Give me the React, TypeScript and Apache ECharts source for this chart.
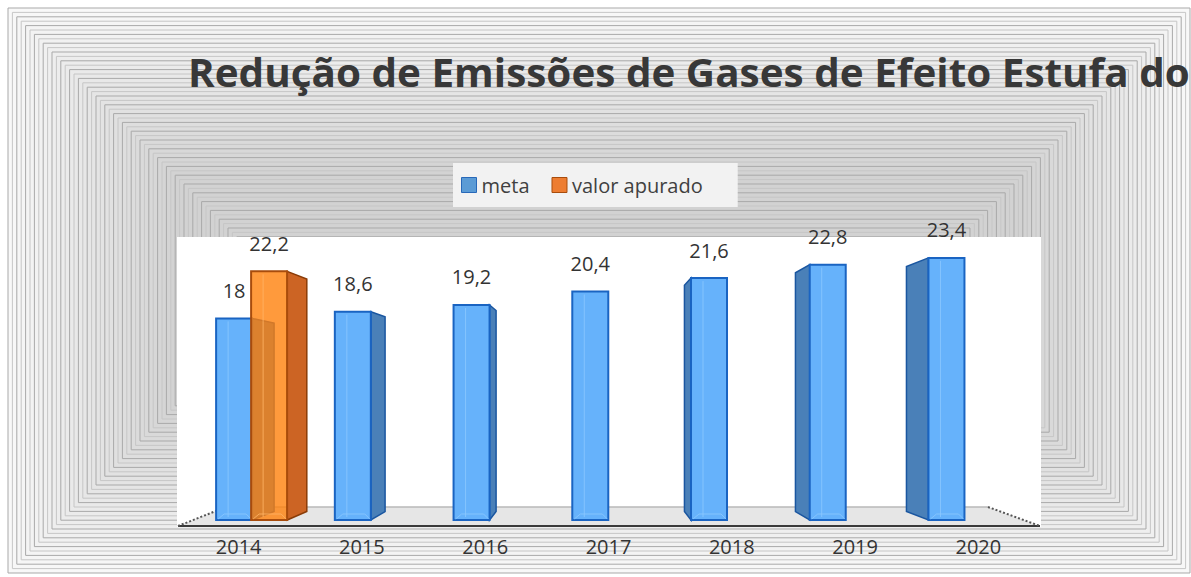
import React, { useEffect, useRef } from 'react';
import * as echarts from 'echarts';

const years = ['2014', '2015', '2016', '2017', '2018', '2019', '2020'];
const metaValues = [18, 18.6, 19.2, 20.4, 21.6, 22.8, 23.4];
const apuradoValues: (number | null)[] = [22.2, null, null, null, null, null, null];
const seriesNames = ['meta', 'valor apurado'];
const titleText = 'Redução de Emissões de Gases de Efeito Estufa do';

const FONT = '"Open Sans", "Noto Sans", sans-serif';
const VX = 590;
const VY = 390;
const DEPTH = 0.935;
const PA = 4.3;
const PB = 0.963;
const BAR_W = 36;

type BarStyle = { front: string; border: string; side: string; sideBorder: string; hi: string };

const metaStyle: BarStyle = { front: 'rgba(102,178,251,1)', border: '#1a64c2', side: '#4a80b8', sideBorder: '#1a56a0', hi: '#8cc8ff' };
const apuradoStyle: BarStyle = { front: 'rgba(255,129,11,0.8)', border: '#a84c0c', side: '#cc6424', sideBorder: '#8a3c08', hi: '#ffb468' };

const fmt = (v: number) => String(v).replace('.', ',');

function makeRender(st: BarStyle, shift: number) {
  return (params: any, api: any) => {
    const v = api.value(1);
    if (v == null || isNaN(v)) return null;
    const idx = api.value(0);
    const top = api.coord([idx, v]);
    const base = api.coord([idx, 0]);
    const cx = top[0];
    const yT = top[1];
    const yB = base[1];
    const fc = PA + PB * cx + shift;
    const x0 = fc - BAR_W / 2;
    const x1 = fc + BAR_W / 2;
    const back = (x: number, y: number) => [VX + DEPTH * (x - VX), VY + DEPTH * (y - VY)];
    const children: any[] = [];
    let edge: number | null = null;
    if (x1 < VX - 4) edge = x1;
    else if (x0 > VX + 4) edge = x0;
    if (edge !== null) {
      const bt = back(edge, yT);
      const bb = back(edge, yB);
      children.push({
        type: 'polygon',
        shape: { points: [[edge, yT], bt, bb, [edge, yB]] },
        style: { fill: st.side, stroke: st.sideBorder, lineWidth: 1.5 },
      });
    }
    children.push({
      type: 'rect',
      shape: { x: x0, y: yT, width: BAR_W, height: yB - yT },
      style: { fill: st.front, stroke: st.border, lineWidth: 2 },
    });
    children.push({
      type: 'line',
      shape: { x1: x0 + 12, y1: yT + 3, x2: x0 + 12, y2: yB - 3 },
      style: { stroke: st.hi, lineWidth: 1, opacity: 0.8 },
    });
    children.push({
      type: 'polyline',
      shape: { points: [[x0 + 2, yB - 1], [x0 + 8, yB - 6], [x1 - 6, yB - 6], [x1 - 1, yB - 1]] },
      style: { stroke: st.hi, lineWidth: 1, fill: 'none', opacity: 0.8 },
    });
    children.push({
      type: 'text',
      style: {
        text: fmt(v),
        x: fc,
        y: yT - 28,
        align: 'center',
        verticalAlign: 'middle',
        fontSize: 20,
        fontFamily: FONT,
        fill: '#333333',
      },
    });
    return { type: 'group', children };
  };
}

function backgroundRects() {
  const out: any[] = [];
  for (let k = 0; k < 70; k++) {
    const d = 4.4 * k;
    const w = 1182 - 2 * d;
    const h = 565 - 2 * d;
    if (h <= 2 || w <= 2) break;
    const lvl = Math.max(210, Math.round(248 - 1.0 * k));
    out.push({
      type: 'rect',
      silent: true,
      z: 0,
      shape: { x: 8 + d, y: 8 + d, width: w, height: h },
      style: {
        fill: `rgb(${lvl},${lvl},${lvl})`,
        stroke: k % 2 === 0 ? '#a9a9a9' : '#c6c6c6',
        lineWidth: 1,
      },
    });
  }
  return out;
}

export default function App() {
  const ref = useRef<HTMLDivElement>(null);
  useEffect(() => {
    if (!ref.current) return;
    const chart = echarts.init(ref.current, undefined, { renderer: 'svg' });

    let titleScale = 1;
    try {
      const ctx = document.createElement('canvas').getContext('2d');
      if (ctx) {
        ctx.font = `bold 39px ${FONT}`;
        const w = ctx.measureText(titleText).width;
        if (w > 0) titleScale = 1002 / w;
      }
    } catch (e) {}

    const metaData = metaValues.map((v, i) => [i, v]);
    const apuradoData = apuradoValues
      .map((v, i) => (v == null ? null : [i, v]))
      .filter((d) => d !== null);

    const option: any = {
      animation: false,
      backgroundColor: '#ffffff',
      grid: { left: 177, right: 151, top: 240, bottom: 57, containLabel: false },
      xAxis: {
        type: 'category',
        data: years,
        axisLine: { show: false },
        axisTick: { show: false },
        splitLine: { show: false },
        axisLabel: { fontSize: 20, color: '#333333', fontFamily: FONT, margin: 16 },
      },
      yAxis: {
        type: 'value',
        min: 0,
        max: 25,
        show: false,
        splitLine: { show: false },
      },
      legend: {
        left: 453,
        top: 163,
        orient: 'horizontal',
        backgroundColor: '#f2f2f2',
        padding: [12, 35, 12, 8],
        itemWidth: 15,
        itemHeight: 15,
        itemGap: 22,
        icon: 'rect',
        textStyle: { fontSize: 20, color: '#404040', fontFamily: FONT },
        data: [
          { name: seriesNames[0], itemStyle: { color: '#5b9bd5', borderColor: '#2868b8', borderWidth: 1 } },
          { name: seriesNames[1], itemStyle: { color: '#ed7d31', borderColor: '#a84c0c', borderWidth: 1 } },
        ],
      },
      graphic: [
        ...backgroundRects(),
        {
          type: 'text',
          z: 1,
          silent: true,
          x: 188,
          y: 72,
          scaleX: titleScale,
          style: {
            text: titleText,
            x: 0,
            y: 0,
            verticalAlign: 'middle',
            align: 'left',
            fontSize: 39,
            fontWeight: 'bold',
            fontFamily: FONT,
            fill: '#383838',
          },
        },
        {
          type: 'rect',
          z: 1,
          silent: true,
          shape: { x: 177, y: 237, width: 864, height: 290 },
          style: { fill: '#ffffff' },
        },
        {
          type: 'polygon',
          z: 1,
          silent: true,
          shape: { points: [[178, 526], [226, 507], [988, 507], [1040, 526]] },
          style: { fill: '#e6e6e6' },
        },
        {
          type: 'line',
          z: 1,
          silent: true,
          shape: { x1: 226, y1: 507, x2: 988, y2: 507 },
          style: { stroke: '#b8b8b8', lineWidth: 1.5 },
        },
        {
          type: 'line',
          z: 1,
          silent: true,
          shape: { x1: 178, y1: 526, x2: 1040, y2: 526 },
          style: { stroke: '#3a3a3a', lineWidth: 2 },
        },
        {
          type: 'line',
          z: 1,
          silent: true,
          shape: { x1: 178, y1: 526, x2: 226, y2: 507 },
          style: { stroke: '#555555', lineWidth: 2, lineDash: [2, 2] },
        },
        {
          type: 'line',
          z: 1,
          silent: true,
          shape: { x1: 988, y1: 507, x2: 1040, y2: 526 },
          style: { stroke: '#555555', lineWidth: 2, lineDash: [2, 2] },
        },
      ],
      series: [
        {
          name: seriesNames[0],
          type: 'custom',
          clip: false,
          z: 3,
          itemStyle: { color: '#5b9bd5' },
          encode: { x: 0, y: 1 },
          data: metaData,
          renderItem: makeRender(metaStyle, 0),
        },
        {
          name: seriesNames[1],
          type: 'custom',
          clip: false,
          z: 4,
          itemStyle: { color: '#ed7d31' },
          encode: { x: 0, y: 1 },
          data: apuradoData,
          renderItem: makeRender(apuradoStyle, 35),
        },
      ],
    };
    chart.setOption(option);
    return () => chart.dispose();
  }, []);
  return (
    <div
      ref={ref}
      style={{ position: 'absolute', left: 0, top: 0, width: 1191, height: 577 }}
    />
  );
}
